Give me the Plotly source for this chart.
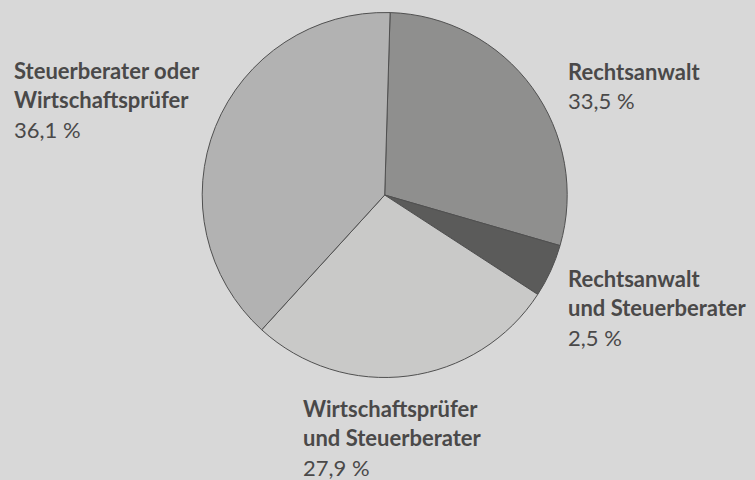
import plotly.graph_objects as go

# slice sizes as drawn (degrees, in percent)
categories = ["Rechtsanwalt", "Rechtsanwalt und Steuerberater",
              "Wirtschaftsprüfer und Steuerberater", "Steuerberater oder Wirtschaftsprüfer"]
shares = [29.0, 4.7, 27.6, 38.7]
# printed labels
share_text = ["33,5 %", "2,5 %", "27,9 %", "36,1 %"]
label_lines = [["Rechtsanwalt"], ["Rechtsanwalt", "und Steuerberater"],
               ["Wirtschaftsprüfer", "und Steuerberater"], ["Steuerberater oder", "Wirtschaftsprüfer"]]

colors = ["#8f8f8e", "#5b5b5a", "#c9c9c8", "#b2b2b2"]
W, H = 755, 480
cx, cy, r = 384.7, 195.0, 182.5

fig = go.Figure()
fig.add_trace(go.Pie(
    labels=categories, values=shares, sort=False, direction="clockwise",
    rotation=1.7, textinfo="none", hoverinfo="label+percent",
    marker=dict(colors=colors, line=dict(color="#505050", width=1)),
    domain=dict(x=[(cx - r) / W, (cx + r) / W], y=[1 - (cy + r) / H, 1 - (cy - r) / H]),
    showlegend=False,
))

# label positions: left x, baseline of first line (px)
label_pos = [(567, 78), (567, 285), (302, 415), (13, 77)]
line_gap = 29.5
for lines, txt, (lx, base) in zip(label_lines, share_text, label_pos):
    rows = ["<b>%s</b>" % s for s in lines] + [txt]
    for i, row in enumerate(rows):
        yb = base + i * line_gap
        fig.add_annotation(x=lx / W, y=1 - (yb - 7) / H, xref="paper", yref="paper",
                           xanchor="left", yanchor="middle", align="left",
                           text=row, showarrow=False, borderpad=0,
                           font=dict(family="Lato", size=22, color="#4a4949"))

fig.update_layout(width=W, height=H, margin=dict(l=0, r=0, t=0, b=0),
                  paper_bgcolor="#d8d8d8", plot_bgcolor="#d8d8d8")
fig.write_html("out.html", config={"displayModeBar": False},
               post_script="document.body.style.margin='0';")
